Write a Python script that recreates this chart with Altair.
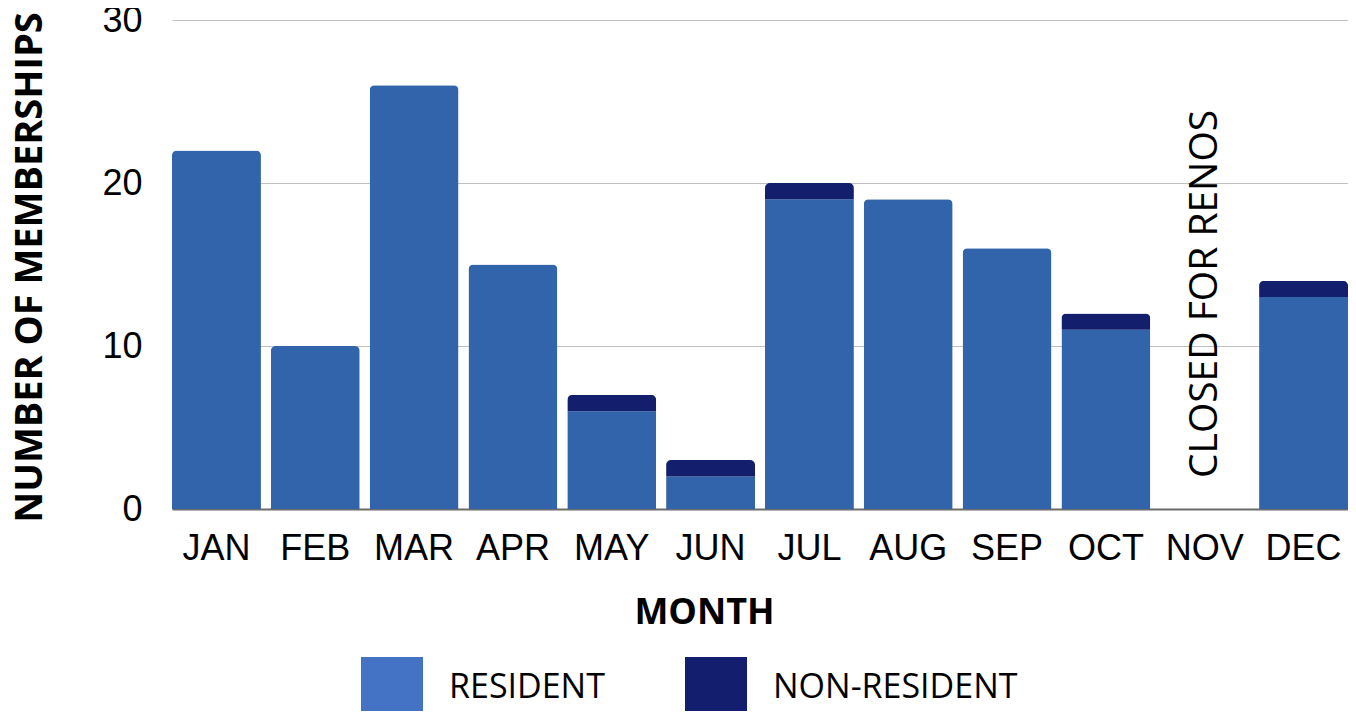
import altair as alt
import pandas as pd

months = ["JAN", "FEB", "MAR", "APR", "MAY", "JUN", "JUL", "AUG", "SEP", "OCT", "NOV", "DEC"]
resident = [22, 10, 26, 15, 6, 2, 19, 19, 16, 11, 0, 13]
non_resident = [0, 0, 0, 0, 1, 1, 1, 0, 0, 1, 0, 1]
series = ["RESIDENT", "NON-RESIDENT"]
bar_colors = ["#3164AB", "#131E6C"]
legend_colors = ["#4472C4", "#141E6E"]
y_ticks = [0, 10, 20, 30]
note_month = ["NOV"]
note_text = ["CLOSED FOR RENOS"]
note_value = [1.9]

rows = []
for m, r, n in zip(months, resident, non_resident):
    rows.append({"month": m, "type": series[0], "value": r, "order": 0})
    rows.append({"month": m, "type": series[1], "value": n, "order": 1})
df = pd.DataFrame(rows)
note_df = pd.DataFrame({"month": note_month, "value": note_value, "text": note_text})

x_enc = alt.X(
    "month:N", sort=months,
    scale=alt.Scale(paddingInner=0.1, paddingOuter=0),
    axis=alt.Axis(
        title="MONTH", labelAngle=0, labelFont="Liberation Sans", labelFontSize=36,
        labelColor="#000000", labelPadding=22, ticks=False, domainColor="#6b6b6b",
        domainWidth=2, grid=False, titleFont="Open Sans", titleFontWeight="bold",
        titleFontSize=36, titleColor="#000000", titleX=532, titleY=114,
        titleBaseline="alphabetic", titleAlign="center",
    ),
)
y_enc = alt.Y(
    "value:Q", stack="zero",
    scale=alt.Scale(domain=[0, 30]),
    axis=alt.Axis(
        values=y_ticks, title="NUMBER OF MEMBERSHIPS", labelFont="Liberation Sans",
        labelFontSize=36, labelColor="#000000", labelPadding=30, ticks=False,
        domain=False, gridColor="#C0C0C0", gridWidth=1,
        titleFont="Open Sans", titleFontWeight="bold", titleFontSize=38,
        titleColor="#000000", titleAngle=270, titleX=-131, titleY=247,
        titleAlign="center", titleBaseline="alphabetic",
    ),
)

bars = alt.Chart(df).mark_bar(cornerRadiusEnd=5).encode(
    x=x_enc,
    y=y_enc,
    color=alt.Color("type:N", scale=alt.Scale(domain=series, range=bar_colors), legend=None),
    order=alt.Order("order:Q"),
)

legend_layer = alt.Chart(df).transform_filter("datum.value < 0").mark_square().encode(
    color=alt.Color(
        "type:N",
        scale=alt.Scale(domain=series, range=legend_colors),
        legend=alt.Legend(
            orient="none", legendX=189, legendY=637, direction="horizontal", title=None,
            symbolType="square", symbolSize=3844, symbolStrokeWidth=0, symbolOpacity=1,
            labelFont="Open Sans", labelFontSize=34, labelColor="#000000",
            labelOffset=26, columnPadding=80, padding=0, labelLimit=500,
        ),
    )
)

note = alt.Chart(note_df).mark_text(
    angle=270, align="left", baseline="middle", font="Open Sans", fontSize=39, color="#000000"
).encode(
    x=alt.X("month:N", sort=months),
    y=alt.Y("value:Q"),
    text="text:N",
)

chart = alt.layer(bars, legend_layer, note).resolve_scale(color="independent").properties(
    width=1176, height=489,
    autosize=alt.AutoSizeParams(type="none"),
    padding={"left": 164, "top": 12, "right": 0, "bottom": 202},
    background="white",
).configure_view(stroke=None)

chart.save("out.html", embed_options={"renderer": "svg", "actions": False})
